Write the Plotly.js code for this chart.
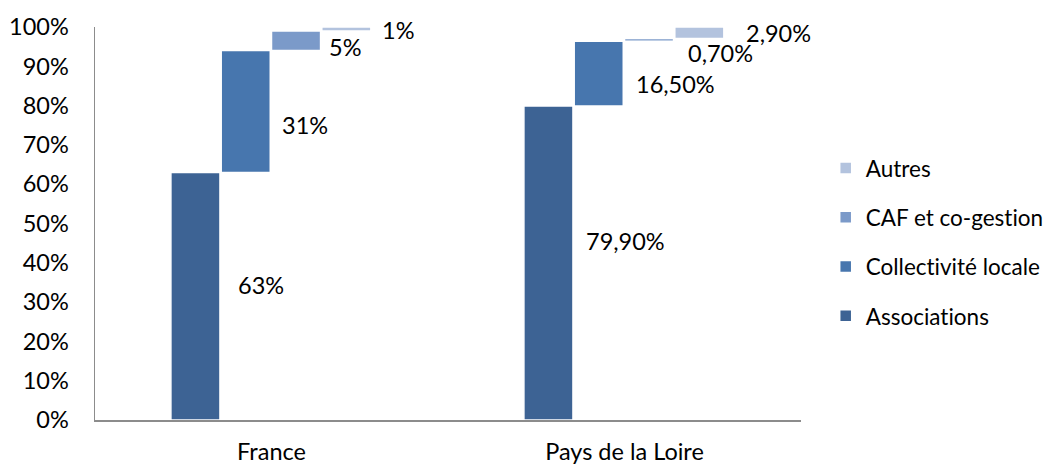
<!DOCTYPE html>
<html>
<head>
<meta charset="utf-8">
<script src="https://cdn.plot.ly/plotly-3.0.1.min.js"></script>
<style>html,body{margin:0;padding:0;background:#fff;}#chart{width:1061px;height:466px;}
svg text{font-variant-ligatures:none;font-feature-settings:"liga" 0;}</style>
</head>
<body>
<div id="chart"></div>
<script>
// ---- data ----
const categories = ['France', 'Pays de la Loire'];
const seriesNames = ['Associations', 'Collectivité locale', 'CAF et co-gestion', 'Autres'];
const associations = [63, 79.9];
const collectivite = [31, 16.5];
const caf = [5, 0.7];
const autres = [1, 2.9];
const labelsAssociations = ['63%', '79,90%'];
const labelsCollectivite = ['31%', '16,50%'];
const labelsCaf = ['5%', '0,70%'];
const labelsAutres = ['1%', '2,90%'];
const yTickVals = [0, 10, 20, 30, 40, 50, 60, 70, 80, 90, 100];

// ---- styling ----
const FONT = 'Lato, Carlito, sans-serif';
const FS = 23.5;
const LFS = 22.5;
const colors = ['#3d6394', '#4776ae', '#7b9ac9', '#b3c3de'];
const barWidth = 0.139;
const step = 0.1425;
const firstOffset = -0.285;
// label nudges (pixels), per series then per category
const labelShift = [[11, 22], [-13, -10], [-6, -13], [-1, 0]];
const labelXShift = [[16, 11], [10, 11], [6, 12], [9, 20]];

const values = [associations, collectivite, caf, autres];
const labels = [labelsAssociations, labelsCollectivite, labelsCaf, labelsAutres];

const traces = [];
const annotations = [];
const cum = categories.map(() => 0);
values.forEach((vals, s) => {
  const base = cum.slice();
  const off = firstOffset + s * step;
  traces.push({
    type: 'bar',
    name: seriesNames[s],
    x: categories,
    y: vals,
    base: base,
    offset: off,
    width: barWidth,
    marker: { color: colors[s], line: { color: '#ffffff', width: 1.5 } },
    legendgroup: 'g' + s,
    legendrank: values.length - s,
    hoverinfo: 'none'
  });
  vals.forEach((v, c) => {
    annotations.push({
      xref: 'x', yref: 'y',
      x: c + off + barWidth,
      y: base[c] + v / 2,
      text: labels[s][c],
      showarrow: false,
      xanchor: 'left', yanchor: 'middle',
      xshift: labelXShift[s][c],
      yshift: labelShift[s][c],
      font: { family: FONT, size: FS, color: '#000' }
    });
    cum[c] += v;
  });
});

const layout = {
  width: 1061, height: 466,
  margin: { l: 95, r: 256, t: 27, b: 46, pad: 0 },
  paper_bgcolor: '#fff', plot_bgcolor: '#fff',
  barmode: 'overlay',
  font: { family: FONT, size: FS, color: '#000' },
  showlegend: true,
  legend: {
    x: 1.035, y: 0.695, xanchor: 'left', yanchor: 'top',
    traceorder: 'grouped', tracegroupgap: 17,
    itemwidth: 30, borderwidth: 0,
    font: { family: FONT, size: LFS, color: '#000' }
  },
  xaxis: {
    type: 'category', range: [-0.5, 1.5],
    showline: true, linecolor: '#8c8c8c', linewidth: 1.5,
    showgrid: false, zeroline: false,
    ticks: 'outside', ticklen: 10, tickcolor: 'rgba(0,0,0,0)',
    fixedrange: true
  },
  yaxis: {
    range: [0, 100],
    tickvals: yTickVals, ticktext: yTickVals.map(v => v + '%'),
    showline: true, linecolor: '#8c8c8c', linewidth: 1.5,
    showgrid: false, zeroline: false,
    ticks: 'outside', ticklen: 20, tickcolor: 'rgba(0,0,0,0)',
    fixedrange: true
  },
  annotations: annotations
};

Plotly.newPlot('chart', traces, layout, { displayModeBar: false, staticPlot: true });
</script>
</body>
</html>
